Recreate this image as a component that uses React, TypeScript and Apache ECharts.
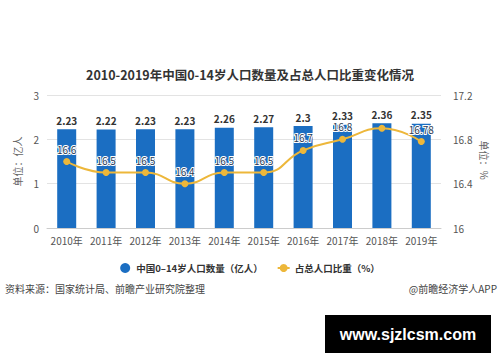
import React, { useEffect, useRef } from "react";
import * as echarts from "echarts";

const years = ["2010年", "2011年", "2012年", "2013年", "2014年", "2015年", "2016年", "2017年", "2018年", "2019年"];
const population = [2.23, 2.22, 2.23, 2.23, 2.26, 2.27, 2.3, 2.33, 2.36, 2.35];
const share = [16.6, 16.5, 16.5, 16.4, 16.5, 16.5, 16.7, 16.8, 16.9, 16.78];
const shareLabelShown = [true, true, true, true, true, true, true, true, false, true];
const leftTicks = { min: 0, max: 3, interval: 1 };
const rightTicks = { min: 16, max: 17.2, interval: 0.4 };

const FONT = "'Noto Sans CJK SC', 'Noto Sans', sans-serif";
const BLUE = "#1B6EC2";
const GOLD = "#EDB73A";

export default function App() {
  const ref = useRef<HTMLDivElement>(null);
  useEffect(() => {
    if (!ref.current) return;
    const chart = echarts.init(ref.current, null, { renderer: "svg" });
    chart.setOption({
      animation: false,
      backgroundColor: "#fff",
      textStyle: { fontFamily: FONT },
      title: {
        text: "2010-2019年中国0-14岁人口数量及占总人口比重变化情况",
        left: "center",
        top: 63,
        textStyle: { fontSize: 12.5, fontWeight: "bold", color: "#333", fontFamily: FONT },
      },
      grid: { left: 47, right: 59, top: 95, bottom: 134 },
      legend: {
        top: 258,
        left: "center",
        itemGap: 14,
        itemWidth: 12,
        itemHeight: 10,
        textStyle: { fontSize: 9.5, color: "#333", fontWeight: "bold", fontFamily: FONT },
        data: [
          { name: "中国0–14岁人口数量（亿人）", icon: "circle" },
          { name: "占总人口比重（%）" },
        ],
      },
      xAxis: {
        type: "category",
        data: years,
        axisTick: { show: false },
        axisLine: { lineStyle: { color: "#ccc" } },
        axisLabel: { fontSize: 10, color: "#555", margin: 7, interval: 0 },
      },
      yAxis: [
        {
          type: "value",
          ...leftTicks,
          name: "单位：亿人",
          nameLocation: "middle",
          nameGap: 20,
          nameTextStyle: { fontSize: 10, color: "#666" },
          axisLine: { show: false },
          axisTick: { show: false },
          axisLabel: { fontSize: 10, color: "#555", margin: 8 },
          splitLine: { lineStyle: { color: "#e3e3e3" } },
        },
        {
          type: "value",
          ...rightTicks,
          axisLine: { show: false },
          axisTick: { show: false },
          axisLabel: { fontSize: 10, color: "#555", margin: 12 },
          splitLine: { show: false },
        },
      ],
      series: [
        {
          name: "中国0–14岁人口数量（亿人）",
          type: "bar",
          data: population,
          barWidth: 19,
          itemStyle: { color: BLUE },
          label: {
            show: true,
            position: "top",
            distance: 4,
            fontSize: 10,
            fontWeight: "bold",
            color: "#333",
          },
        },
        {
          name: "占总人口比重（%）",
          type: "line",
          yAxisIndex: 1,
          smooth: true,
          data: share.map((v, i) => ({ value: v, label: { show: shareLabelShown[i] } })),
          symbol: "circle",
          symbolSize: 7,
          itemStyle: { color: GOLD },
          lineStyle: { color: GOLD, width: 2 },
          label: {
            show: true,
            position: "top",
            distance: 4,
            fontSize: 10,
            color: "#2b3a55",
            textBorderColor: "#fff",
            textBorderWidth: 2,
          },
        },
      ],
      graphic: [
        {
          type: "text",
          x: 484,
          y: 160,
          rotation: -Math.PI / 2,
          style: { text: "单位：%", fill: "#666", font: `10px ${FONT}`, textAlign: "center", textVerticalAlign: "middle" },
        },
        {
          type: "text",
          left: 5,
          top: 283,
          style: { text: "资料来源：国家统计局、前瞻产业研究院整理", fill: "#444", font: `10px ${FONT}` },
        },
        {
          type: "text",
          right: 3,
          top: 283,
          style: { text: "@前瞻经济学人APP", fill: "#444", font: `10px ${FONT}` },
        },
        {
          type: "rect",
          left: 325,
          top: 315,
          shape: { width: 166, height: 38 },
          style: { fill: "#000" },
        },
        {
          type: "text",
          x: 408,
          y: 334,
          style: {
            text: "www.sjzlcsm.com",
            fill: "#fff",
            font: `bold 16px 'Liberation Sans', Arial, sans-serif`,
            textAlign: "center",
            textVerticalAlign: "middle",
          },
        },
      ],
    });
    return () => chart.dispose();
  }, []);
  return <div ref={ref} style={{ width: 500, height: 362, position: "absolute", left: 0, top: 0 }} />;
}
